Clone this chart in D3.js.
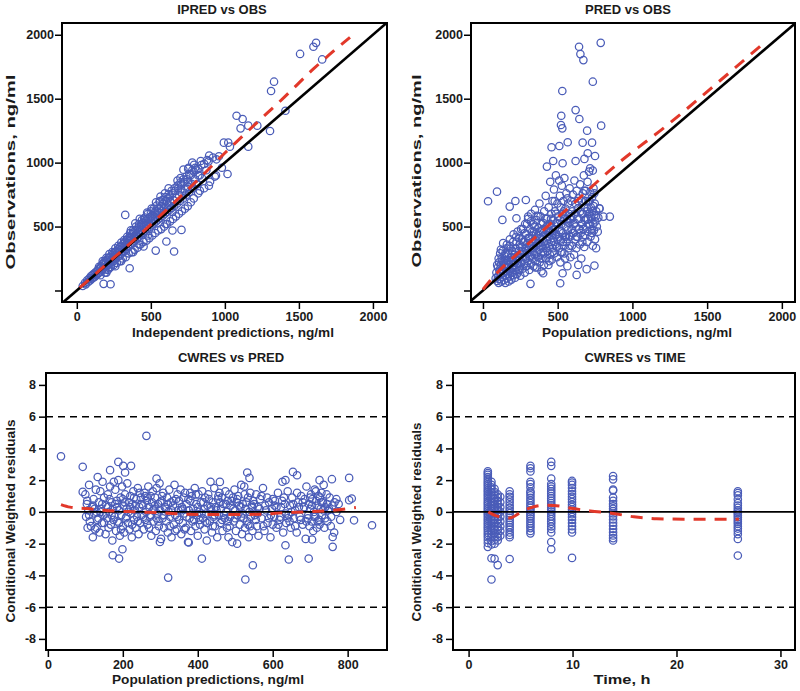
<!DOCTYPE html>
<html><head><meta charset="utf-8">
<script src="https://cdn.jsdelivr.net/npm/d3@7"></script>
<style>
body{margin:0;background:#fff}
svg{display:block}
text{font-family:"Liberation Sans",Arial,sans-serif;font-weight:bold;fill:#1b1b1b}
</style>
</head><body>
<svg id="c" width="800" height="691"></svg>
<script>
// ---------- DATA ----------
// Panel 1: IPRED (x) vs OBS (y), ng/ml
const ipredObs = [
[40,35],[55,60],[60,48],[70,80],[75,65],[85,95],[90,78],[95,110],[100,90],[105,120],[110,100],[115,130],[120,105],[125,140],[130,118],[135,150],[140,128],[145,165],[150,140],[155,175],[160,150],[165,190],[170,158],[172,205],[178,170],[180,215],[185,180],[188,230],[190,165],[195,210],[200,190],[205,240],[210,200],[212,255],[218,220],[220,175],[225,260],[228,235],[232,205],[235,275],[240,250],[242,225],[248,290],[250,260],[255,235],[258,300],[262,275],[265,250],[270,310],[272,290],[278,265],[280,325],[285,300],[288,270],[292,340],[295,315],[300,285],[302,350],[306,330],[310,300],[315,365],[318,340],[322,310],[325,380],[330,355],[334,325],[338,395],[340,370],[345,340],[350,410],[352,385],[357,350],[360,420],[364,395],[368,365],[372,440],[376,410],[380,375],[384,455],[388,425],[392,390],[396,470],[400,440],[405,405],[410,485],[414,455],[418,420],[422,500],[426,470],[430,440],[435,515],[440,485],[445,450],[450,530],[455,500],[460,465],[465,545],[470,515],[475,480],[480,560],[485,530],[490,495],[495,575],[500,545],[505,510],[510,590],[515,560],[520,525],[525,605],[530,575],[535,540],[540,620],[545,590],[550,555],[555,640],[560,605],[565,570],[570,660],[575,620],[580,585],[585,680],[590,640],[595,600],[600,700],[605,655],[610,615],[615,720],[620,670],[625,630],[630,735],[635,690],[640,645],[648,760],[652,705],[658,660],[665,780],[670,725],[678,680],[685,800],[690,745],[698,700],[705,830],[710,765],[718,720],[725,850],[730,790],[738,745],[745,870],[752,810],[760,770],[768,900],[775,835],[785,800],[790,930],[798,870],[810,830],[820,950],[830,900],[845,880],[860,990],[875,940],[890,1010],
[150,185],[160,120],[175,230],[190,140],[200,255],[210,160],[220,285],[230,185],[240,300],[250,200],[260,330],[270,215],[280,350],[290,230],[300,375],[310,250],[320,395],[330,260],[340,420],[350,290],[360,450],[370,300],[380,470],[390,320],[400,500],[410,335],[420,520],[430,360],[440,550],[450,380],[460,570],[470,390],[480,600],[490,410],[500,620],[510,430],[520,640],[530,450],[540,665],[550,470],[560,690],[570,480],[580,710],[590,500],[600,730],[610,520],[620,755],[630,540],[640,780],[650,560],[660,800],[670,580],[680,820],[690,600],[700,845],[710,620],[720,870],[730,640],[740,890],[750,660],[760,910],[770,690],[780,940],[790,720],[800,960],[820,760],[840,980],[860,800],[880,1020],[900,850],[920,1040],[940,900],[960,1050],[980,960],
[455,560],[475,610],[505,640],[535,690],[565,735],[595,760],[620,800],[680,860],[700,880],[720,945],[755,960],[780,1000],[365,470],[395,525],[425,560],[470,520],[530,620],[610,690],[700,790],[750,850],[820,900],
[1508,1850],[1616,1937],[1598,1906],[1657,1807],[1332,1633],[1312,1560],[1409,1406],[1079,1367],[1120,1341],[1158,1289],[1219,1289],[1106,1268],[1305,1247],[1158,1125],[993,1156],[1023,1156],[1034,1125],[1018,911],[894,1055],[943,1026],[892,820],[831,781],[932,891],[837,1013],[792,982],[752,951],[808,943],
[327,591],[646,469],[707,474],[605,383],[657,305],[533,312],[451,344],[357,174],[181,52],[228,49],[646,615],[560,700],[600,520],[480,430],[420,360],[380,300],[300,230],[260,190],[200,140]
];
// Panel 2: PRED (x) vs OBS (y), ng/ml
const predObs = [
[85,95],[90,140],[95,75],[100,180],[100,110],[105,60],[108,220],[110,150],[112,90],[115,290],[118,130],[120,200],[122,70],[125,250],[128,165],[130,105],[132,310],[135,140],[138,225],[140,80],[142,185],[145,270],[148,120],[150,60],[152,210],[155,150],[158,330],[160,95],[162,240],[165,175],[168,130],[170,290],[172,70],[175,200],[178,350],[180,155],[182,110],[185,260],[188,225],[190,85],[192,180],[195,310],[198,140],[200,240],[202,380],[205,120],[208,200],[210,280],[212,160],[215,100],[218,330],[220,230],[222,420],[225,180],[228,130],[230,270],[232,460],[235,210],[238,150],[240,310],[242,250],[245,360],[248,190],[250,115],
[255,280],[258,220],[260,400],[262,340],[265,170],[268,480],[270,260],[272,300],[275,210],[278,380],[280,140],[282,520],[285,330],[288,250],[290,440],[292,190],[295,290],[298,370],[300,230],[302,560],[305,320],[308,410],[310,160],[312,270],[315,480],[318,350],[320,210],[322,600],[325,300],[328,430],[330,250],[332,380],[335,520],[338,190],[340,330],[342,460],[345,280],[348,630],[350,400],[352,230],[355,350],[358,550],[360,300],[362,180],[365,430],[368,260],[370,490],[372,370],[375,320],[378,680],[380,220],[382,410],[385,580],[388,290],[390,350],[392,150],[395,470],[398,250],[400,400],[402,530],[405,330],[408,200],[410,620],[412,290],[415,440],[418,360],[420,740],[422,250],[425,500],[428,390],[430,560],[432,310],[435,460],[438,200],[440,650],[442,350],[445,420],[448,280],[450,850],[452,520],[455,380],[458,600],[460,240],[462,450],[465,700],[468,330],[470,550],[472,410],[475,790],[478,290],[480,480],[482,620],[485,360],[488,900],[490,440],[492,530],[495,260],[498,680],[500,400],
[505,580],[508,330],[510,860],[512,470],[515,740],[518,220],[520,650],[522,390],[525,520],[528,820],[530,300],[532,600],[535,450],[538,700],[540,350],[542,560],[545,880],[548,420],[550,250],[552,640],[555,500],[558,760],[560,380],[562,560],[565,190],[568,470],[570,680],[572,330],[575,600],[578,530],[580,800],[582,420],[585,260],[588,560],[590,700],[592,480],[595,350],[598,620],
[602,750],[605,450],[608,520],[610,280],[612,860],[615,600],[618,400],[620,680],[622,500],[625,330],[628,780],[630,560],[632,420],[635,640],[638,200],[640,720],[642,480],[645,560],[648,360],[650,830],[652,620],[655,450],[658,250],[660,700],[662,520],[665,380],[668,760],[670,600],[672,480],[675,900],[678,340],[680,650],[682,550],[685,430],[688,780],[690,700],[692,500],[695,620],[698,380],[700,850],[702,560],[705,460],[708,700],[710,930],[712,600],[715,520],[718,770],[720,420],[722,650],[725,560],[728,480],[730,730],[732,620],[735,350],[738,520],[740,800],[742,470],[745,590],[748,680],[750,400],[752,540],[758,620],[762,500],[768,460],[772,570],[780,640],
[95,200],[105,250],[115,170],[120,320],[130,230],[135,370],[145,200],[150,290],[160,360],[165,230],[175,150],[180,400],[185,330],[195,260],[200,180],[205,440],[215,300],[225,380],[230,240],[240,410],[245,160],[250,340],[255,480],[265,310],[270,380],[280,450],[285,190],[295,520],[300,410],[310,360],[315,260],[320,540],[330,460],[335,330],[345,500],[350,180],[355,440],[365,370],[370,580],[380,460],[385,250],[390,520],[400,300],[405,480],[410,380],[420,560],[425,330],[430,420],[440,520],[445,230],[450,460],[455,560],[465,300],[470,470],[475,380],[480,700],[485,430],[490,600],[495,340],[500,520],[510,420],[515,550],[520,300],[525,460],[535,380],[540,620],[545,290],[555,420],[560,540],[565,720],[575,430],[580,350],[590,580],[600,450],[615,530],[625,420],[635,700],[645,480],[660,600],[670,420],[680,780],[690,560],[700,640],[705,520],[715,700],[720,580],[730,450],[740,660],[745,760],[755,580],
[643,1906],[788,1937],[652,1849],[672,1802],[735,1633],[531,1560],[620,1411],[524,1367],[645,1341],[522,1294],[531,1268],[697,1250],[791,1289],[567,1159],[511,1130],[459,1120],[667,1156],[730,1156],[701,1073],[750,1052],[679,1029],[470,1013],[533,995],[620,1013],[428,969],[717,956],[735,938],
[34,698],[94,773],[179,656],[217,700],[287,708],[130,552],[224,565],[302,578],[358,583],[849,578],[806,578],[779,643],[757,331],[746,195],[694,167],[627,122],[517,57],[318,52],[403,135],[533,135]
];
// Panel 3: PRED (x, ng/ml) vs CWRES (y)
const cwresPred = [
[100,1.1],[102,-0.3],[104,0.5],[106,-1.0],[108,0.1],[110,1.7],[112,-0.6],
[118,0.3],[120,-1.6],[122,0.8],[124,-0.1],[126,-1.1],[128,1.4],[130,0.0],[132,-0.5],
[136,0.6],[138,-1.3],[140,1.3],[142,0.2],[144,-0.7],[146,1.9],[148,-0.2],[150,0.9],
[154,-1.4],[156,0.4],[158,-0.4],[160,1.1],[162,-1.0],[164,0.0],[166,1.6],[168,-0.8],[170,0.6],
[172,-1.8],[174,0.2],[176,1.9],[178,-0.3],[180,1.4],[182,-1.2],[184,0.7],[186,-0.6],[188,2.0],[190,0.1],
[192,-1.5],[194,0.9],[196,-0.2],[198,1.6],[200,-0.9],[202,0.4],[204,-1.3],[206,1.1],[208,-0.4],[210,0.2],
[212,1.8],[214,-0.7],[216,0.6],[218,-1.1],[220,1.0],[222,-0.1],[224,-1.6],[226,0.5],[228,1.3],[230,-0.5],
[232,0.1],[234,-1.0],[236,0.8],[238,-0.3],[240,1.5],[242,-1.4],[244,0.3],[246,-0.7],[248,0.9],[250,-0.2],
[254,0.4],[256,-1.1],[258,1.2],[260,-0.5],[262,0.0],[264,0.7],[266,-0.8],[268,1.6],[270,0.3],[272,-0.3],
[274,1.0],[276,-1.5],[278,0.6],[280,1.3],[282,-0.6],[284,0.2],[286,0.9],[288,-1.2],[290,1.5],[292,-0.1],[294,0.5],[296,-0.9],
[298,1.8],[300,0.1],[302,-1.7],[304,0.7],[306,-0.4],[308,1.2],[310,-1.0],[312,0.3],
[316,-0.6],[318,0.9],[320,-1.3],[322,0.0],[324,1.4],[326,-0.3],[328,0.6],[330,-1.6],
[334,0.4],[336,-0.8],[338,1.7],[340,-0.2],[342,0.8],[344,-1.1],[346,1.1],[348,0.1],[350,-0.5],
[354,1.4],[356,-1.4],[358,0.3],[360,-0.7],[362,0.9],[364,-0.1],[366,1.2],[368,-1.0],[370,0.5],
[374,-1.9],[376,0.1],[378,-0.4],[380,0.7],[382,-1.2],[384,1.0],[386,-0.6],[388,0.2],
[392,1.5],[394,-0.9],[396,0.5],[398,-0.2],[400,-1.5],[402,1.1],[404,0.0],[406,-0.8],[408,0.6],
[412,1.3],[414,-0.4],[416,0.2],[418,-1.1],[420,0.9],[422,-0.1],[424,-1.8],[426,0.4],[428,1.1],
[432,-0.6],[434,1.9],[436,0.1],[438,-1.3],[440,0.6],[442,-0.3],[444,1.5],[446,-0.9],[448,0.3],
[452,-1.6],[454,0.8],[456,-0.2],[458,1.2],[460,-0.7],[462,0.2],[464,0.9],[466,-1.2],[468,0.5],
[472,-0.4],[474,1.3],[476,0.0],[478,-1.0],[480,0.7],[482,-1.6],[484,1.1],[486,-0.3],[488,0.4],
[492,-1.9],[494,0.9],[496,-0.6],[498,1.4],[500,0.1],[502,-1.2],[504,0.6],[506,-0.2],[508,1.0],
[512,-0.8],[514,0.3],[516,1.7],[518,-1.4],[520,0.5],[522,-0.4],[524,1.6],[526,-1.0],[528,0.2],
[532,-0.6],[534,0.9],[536,-1.6],[538,0.0],[540,1.2],[542,-0.3],[544,0.4],[546,-1.2],[548,0.7],
[552,-0.2],[556,1.1],[558,-0.9],[560,0.3],[562,-1.5],[566,0.8],[570,-0.4],[574,1.5],
[578,-1.2],[582,0.1],[586,-0.7],[590,0.6],[594,-1.6],[598,0.2],[600,0.8],
[604,-0.3],[606,0.7],[610,-1.0],[614,1.2],[618,-0.5],[622,0.3],[626,1.9],[628,-1.3],
[632,0.5],[636,-0.7],[640,1.3],[642,-0.2],[646,0.4],[648,-1.0],[652,0.9],[656,-0.4],[660,0.1],
[664,-1.3],[668,0.6],[672,-0.3],[676,1.0],[680,-0.8],[684,0.3],[688,-1.7],[690,1.6],
[694,-0.4],[696,0.5],[698,-0.9],[700,0.2],[702,1.1],[704,-0.6],[706,0.8],[708,-1.2],[710,0.0],[712,1.4],
[714,-0.3],[716,0.7],[718,-1.0],[720,0.4],[722,1.0],[724,-0.5],[726,0.9],[728,0.2],[730,1.2],[732,-0.2],[734,0.6],[736,1.7],[738,-1.0],[740,0.3],
[744,1.1],[746,-0.6],[748,0.1],[752,0.9],[756,-0.3],[760,0.4],[764,-1.3],[770,0.0],[776,0.5],[780,-0.5],
[105,0.7],[115,-0.9],[125,0.2],[135,-0.4],[145,0.5],[155,-0.1],[165,0.8],[175,-0.5],[185,0.3],[195,-1.1],[205,0.6],[215,0.0],[225,-0.8],[235,0.4],[245,1.2],[255,-0.3],[265,0.9],[275,-0.2],[285,0.4],[295,-0.6],[305,1.0],[315,0.2],[325,-0.9],[335,0.7],[345,-0.3],[355,0.1],[365,-1.1],[375,0.8],[385,-0.1],[395,1.1],[405,-0.5],[415,0.6],[425,-0.7],[435,0.3],[445,-0.2],[455,1.0],[465,-0.5],[475,0.5],[485,-0.9],[495,0.2],[505,0.8],[515,-0.3],[525,1.1],[535,-0.8],[545,0.3],[555,-0.5],[565,0.2],[575,-0.9],[585,0.9],[595,-0.2],[605,0.4],[615,-0.8],[625,0.7],[635,-0.1],[645,-0.6],[655,0.5],[665,1.2],[675,-0.5],[685,0.8],[695,-0.2],[705,0.4],[715,1.3],[725,-0.8],[735,0.1],[745,0.5],[755,-0.9],[765,0.6],
[110,-0.2],[120,0.4],[130,-1.0],[140,0.0],[150,-0.7],[160,0.3],[170,-0.2],[180,0.5],[190,-0.7],[200,0.8],[210,-0.3],[220,0.3],[230,0.9],[240,-0.6],[250,0.5],[260,1.0],[270,-1.0],[280,0.1],[290,-0.4],[300,0.6],[310,-0.2],[320,0.5],[330,0.1],[340,-1.2],[350,0.7],[360,0.2],[370,-0.3],[380,1.2],[390,-0.5],[400,0.3],[410,-0.1],[420,-0.6],[430,0.8],[440,-0.9],[450,0.1],[460,0.6],[470,-0.2],[480,-0.6],[490,0.7],[500,-0.4],[510,0.4],[520,-0.1],[530,0.6],[540,-0.9],[550,0.5],[560,-0.1],[570,1.0],[580,0.4],[590,-0.4],[600,-0.8],[610,0.3],[620,-0.3],[630,0.9],[640,-0.4],[650,0.0],[660,-0.9],[670,0.3],[680,0.6],[690,-0.6],[700,0.9],[710,-0.3],[720,-0.6],[730,0.6],[740,-0.4],[750,0.2],[770,0.8],
[35,3.5],[263,4.79],[93,2.84],[93,1.26],[188,3.15],[201,2.9],[206,2.48],[222,2.9],[166,2.63],[133,2.2],[173,-2.73],[190,-2.94],[199,-2.35],[321,-4.14],[411,-2.94],[527,-4.26],[547,-3.36],[643,-3.0],[696,-2.94],[865,-0.84],[817,-0.53],[804,2.14],[804,0.74],[811,0.84],[758,2.06],[725,2.0],[654,2.52],[665,2.31],[634,2.0],[532,2.48],[538,2.14],[459,1.89],[290,2.1],[760,-2.2],[634,-2.1],[376,-1.93],[299,-1.89],[705,-1.74],[760,-1.58],[505,-2.0]
];
// Panel 4: sampling times (h) and the CWRES read in each time column
const timeCols = [1.85, 2.2, 2.5, 2.8, 3.05, 3.95, 5.95, 7.95, 9.95, 13.9, 25.9];
const cwresByTime = [
 [2.55,2.44,2.33,2.2,2.07,1.95,1.84,1.72,1.61,1.49,1.37,1.26,1.13,1.01,0.89,0.77,0.64,0.53,0.41,0.28,0.17,0.05,-0.08,-0.19,-0.32,-0.45,-0.56,-0.69,-0.8,-0.93,-1.04,-1.17,-1.31,-1.45,-1.6,-1.77,-1.96,-2.2],
 [1.9,1.7,1.55,1.4,1.22,1.05,0.9,0.72,0.55,0.38,0.2,0.05,-0.12,-0.3,-0.47,-0.66,-0.85,-1.02,-1.2,-1.42,-1.6,-1.85,-2.05,-2.92,-4.26],
 [1.45,1.25,1.05,0.85,0.62,0.45,0.25,0.08,-0.1,-0.3,-0.5,-0.7,-0.9,-1.1,-1.32,-1.55,-1.75,-2.0,-2.95],
 [1.1,0.9,0.7,0.5,0.3,0.12,-0.1,-0.3,-0.5,-0.72,-0.95,-1.15,-1.4,-1.6,-1.8,-3.35],
 [0.95,0.6,0.3,0.0,-0.3,-0.6,-0.9,-1.2,-1.5],
 [1.3,1.1,0.95,0.78,0.6,0.42,0.25,0.08,-0.08,-0.22,-0.38,-0.52,-0.68,-0.82,-0.97,-1.12,-1.3,-1.45,-1.6,-2.97],
 [2.9,2.75,2.55,1.9,1.75,1.55,1.3,1.2,1.05,0.88,0.72,0.55,0.4,0.25,0.1,-0.02,-0.15,-0.28,-0.42,-0.58,-0.72,-0.88,-1.02,-1.2,-1.35],
 [3.15,2.9,2.1,1.75,1.6,1.45,1.3,1.15,1.0,0.85,0.7,0.55,0.42,0.28,0.15,0.02,-0.12,-0.28,-0.45,-0.6,-0.75,-0.92,-1.08,-1.3,-1.9,-2.35],
 [1.95,1.85,1.7,1.5,1.3,1.12,0.95,0.8,0.62,0.45,0.3,0.15,0.0,-0.15,-0.32,-0.5,-0.7,-0.9,-1.1,-1.3,-2.9],
 [2.25,2.05,1.4,1.35,0.9,0.7,0.5,0.35,0.2,0.05,-0.1,-0.28,-0.48,-0.68,-0.88,-1.08,-1.28,-1.48,-1.65,-1.8],
 [1.3,1.18,1.05,0.8,0.55,0.4,0.25,0.1,0.0,-0.1,-0.22,-0.35,-0.5,-0.62,-0.75,-0.9,-1.05,-1.2,-1.4,-1.7,-2.75]
];
// Smooth (loess) trend lines
const loessIpred = [[20,22],[200,205],[400,410],[600,625],[800,845],[1000,1075],[1200,1295],[1400,1510],[1600,1735],[1845,1980]];
const loessPred = [[0,8],[50,80],[270,330],[600,675],[900,990],[1230,1290],[1560,1615],[1870,1925]];
const loessCwPred = [[35,0.46],[59,0.3],[104,0.21],[148,0.1],[237,0],[308,-0.06],[370,-0.15],[441,-0.17],[503,-0.17],[565,-0.15],[627,-0.06],[689,0],[751,0.08],[822,0.27]];
const loessCwTime = [[1.9,0],[2.67,-0.25],[3.95,-0.38],[5.08,0],[6.2,0.31],[7.5,0.42],[8.8,0.36],[10.06,0.21],[11.7,0.06],[13.9,-0.1],[15.9,-0.31],[18.1,-0.43],[20.7,-0.46],[23.6,-0.46],[26,-0.46]];
// Ticks and labels
const concTicks = [0,500,1000,1500,2000];
const obsTickLabels = ["","500","1000","1500","2000"];
const cwresTicks = [-8,-6,-4,-2,0,2,4,6,8];
const predTicks = [0,200,400,600,800];
const timeTicks = [0,10,20,30];
const titles = ["IPRED vs OBS","PRED vs OBS","CWRES vs PRED","CWRES vs TIME"];
const xLabels = ["Independent predictions, ng/ml","Population predictions, ng/ml","Population predictions, ng/ml","Time, h"];
const yLabels = ["Observations, ng/ml","Observations, ng/ml","Conditional Weighted residuals","Conditional Weighted residuals"];

// ---------- DRAWING ----------
const svg = d3.select("#c");
const BLUE = "#4a5cb8", RED = "#e2382a";

const cwresPts = [];
timeCols.forEach((t,i)=>cwresByTime[i].forEach(v=>cwresPts.push([t,v])));

const panels = [
 {id:1,l:62,r:387,t:23,b:302,xd:[-100,2095],yd:[-90,2092],pts:ipredObs,loess:loessIpred,diag:true,
  xt:concTicks,yt:concTicks,yfmt:(d,i)=>obsTickLabels[i],title:titles[0],tx:222,ty:14,
  xl:xLabels[0],xlx:233,xly:337,xlLen:202,yl:yLabels[0],ylx:15,yly:172,ylLen:195,ypad:1},
 {id:2,l:471,r:795,t:23,b:302,xd:[-80,2088],yd:[-90,2092],pts:predObs,loess:loessPred,diag:true,
  xt:concTicks,yt:concTicks,yfmt:(d,i)=>obsTickLabels[i],title:titles[1],tx:628,ty:14,
  xl:xLabels[1],xlx:637,xly:337,xlLen:190,yl:yLabels[1],ylx:421,yly:171,ylLen:193,ypad:1},
 {id:3,l:46,r:387,t:373,b:650,xd:[-5,905],yd:[-8.7,8.75],pts:cwresPred,loess:loessCwPred,hl:true,
  xt:predTicks,yt:cwresTicks,yfmt:d=>d,title:titles[2],tx:231,ty:362,
  xl:xLabels[2],xlx:208,xly:684,xlLen:192,yl:yLabels[2],ylx:15,yly:521,ylLen:203,ypad:3},
 {id:4,l:453,r:795,t:373,b:650,xd:[-1.5,31.4],yd:[-8.7,8.75],pts:cwresPts,loess:loessCwTime,hl:true,
  xt:timeTicks,yt:cwresTicks,yfmt:d=>d,title:titles[3],tx:635,ty:362,
  xl:xLabels[3],xlx:622,xly:684,xlLen:57,yl:yLabels[3],ylx:421,yly:522,ylLen:199,ypad:3}
];

panels.forEach(o=>{
  const x = d3.scaleLinear().domain(o.xd).range([o.l,o.r]);
  const y = d3.scaleLinear().domain(o.yd).range([o.b,o.t]);
  const cid = "clip"+o.id;
  svg.append("clipPath").attr("id",cid).append("rect")
     .attr("x",o.l).attr("y",o.t).attr("width",o.r-o.l).attr("height",o.b-o.t);
  const g = svg.append("g");
  const pg = g.append("g").attr("clip-path",`url(#${cid})`);

  pg.selectAll("circle").data(o.pts).join("circle")
    .attr("cx",d=>x(d[0])).attr("cy",d=>y(d[1])).attr("r",3.7)
    .attr("fill","none").attr("stroke",BLUE).attr("stroke-width",1.25);

  if(o.diag){
    pg.append("line").attr("x1",x(-300)).attr("y1",y(-300)).attr("x2",x(2300)).attr("y2",y(2300))
      .attr("stroke","#000").attr("stroke-width",2.6);
  }
  if(o.hl){
    pg.append("line").attr("x1",o.l).attr("x2",o.r).attr("y1",y(0)).attr("y2",y(0))
      .attr("stroke","#000").attr("stroke-width",1.6);
    [-6,6].forEach(v=>pg.append("line").attr("x1",o.l).attr("x2",o.r).attr("y1",y(v)).attr("y2",y(v))
      .attr("stroke","#000").attr("stroke-width",1.5).attr("stroke-dasharray","7,5"));
  }
  const line = d3.line().x(d=>x(d[0])).y(d=>y(d[1])).curve(d3.curveMonotoneX);
  pg.append("path").attr("d",line(o.loess)).attr("fill","none").attr("stroke",RED)
    .attr("stroke-width",3).attr("stroke-dasharray","12,9");

  g.append("rect").attr("x",o.l).attr("y",o.t).attr("width",o.r-o.l).attr("height",o.b-o.t)
    .attr("fill","none").attr("stroke","#000").attr("stroke-width",2);

  const xa = g.append("g").attr("transform",`translate(0,${o.b+1})`)
    .call(d3.axisBottom(x).tickValues(o.xt).tickSize(6).tickPadding(3).tickFormat(d=>d));
  const ya = g.append("g").attr("transform",`translate(${o.l-1},0)`)
    .call(d3.axisLeft(y).tickValues(o.yt).tickSize(6).tickPadding(o.ypad).tickFormat(o.yfmt));
  [xa,ya].forEach(a=>{
    a.select(".domain").remove();
    a.selectAll("line").attr("stroke","#000").attr("stroke-width",1.5);
    a.selectAll("text").attr("font-size",12.5).attr("font-family",null).attr("fill","#1b1b1b");
  });

  g.append("text").attr("x",o.tx).attr("y",o.ty).attr("text-anchor","middle")
    .attr("font-size",13).text(o.title);
  g.append("text").attr("x",o.xlx).attr("y",o.xly).attr("text-anchor","middle")
    .attr("font-size",13.5).attr("textLength",o.xlLen).attr("lengthAdjust","spacingAndGlyphs").text(o.xl);
  g.append("text").attr("transform",`translate(${o.ylx},${o.yly}) rotate(-90)`).attr("text-anchor","middle")
    .attr("font-size",13.5).attr("textLength",o.ylLen).attr("lengthAdjust","spacingAndGlyphs").text(o.yl);
});
</script>
</body></html>
